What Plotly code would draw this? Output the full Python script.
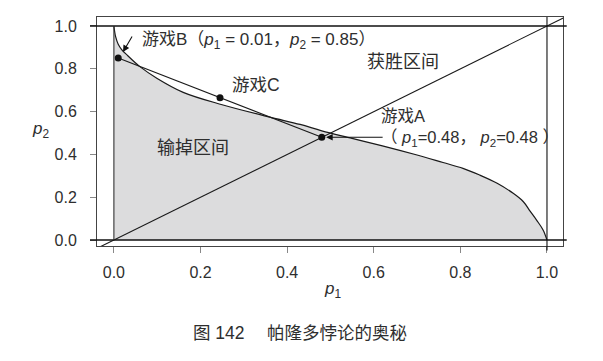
import plotly.graph_objects as go

# boundary curve of the losing region
curve_p1 = [0.0, 0.004, 0.01, 0.018, 0.03, 0.06, 0.10, 0.16, 0.25, 0.36, 0.43, 0.48,
            0.55, 0.62, 0.70, 0.76, 0.806, 0.845, 0.885, 0.922, 0.945, 0.961, 0.976, 0.991, 1.0]
curve_p2 = [1.0, 0.95, 0.915, 0.89, 0.865, 0.81, 0.755, 0.69, 0.632, 0.574, 0.54, 0.51,
            0.475, 0.44, 0.397, 0.362, 0.335, 0.303, 0.265, 0.218, 0.18, 0.135, 0.093, 0.047, 0.0]

# games
game_names = ["B", "C", "A"]
game_p1 = [0.01, 0.245, 0.48]
game_p2 = [0.85, 0.665, 0.48]

diag = [-0.1, 1.1]

xticks = [0.0, 0.2, 0.4, 0.6, 0.8, 1.0]
yticks = [0.0, 0.2, 0.4, 0.6, 0.8, 1.0]

FONT = "Liberation Sans, Arial, Noto Sans CJK SC, sans-serif"
TXT = "#2e2e2e"

fig = go.Figure()

# shaded losing region
fig.add_trace(go.Scatter(x=curve_p1, y=curve_p2, mode="lines", fill="tozeroy",
                         fillcolor="#dcdcdd", line=dict(color="#1a1a1a", width=1.2),
                         line_shape="spline", hoverinfo="skip"))
# diagonal p2 = p1
fig.add_trace(go.Scatter(x=diag, y=diag, mode="lines",
                         line=dict(color="#1a1a1a", width=1.1), hoverinfo="skip"))
# segment B - C - A
fig.add_trace(go.Scatter(x=game_p1, y=game_p2, mode="lines+markers",
                         line=dict(color="#1a1a1a", width=1.1),
                         marker=dict(color="#111", size=7), hoverinfo="skip"))

shapes = [
    dict(type="line", xref="paper", yref="y", x0=-0.015, x1=1.008, y0=0, y1=0,
         line=dict(color="#111", width=1.3)),
    dict(type="line", xref="paper", yref="y", x0=-0.015, x1=1.008, y0=1, y1=1,
         line=dict(color="#111", width=1.3)),
    dict(type="line", xref="x", yref="y", x0=0, x1=0, y0=0, y1=1,
         line=dict(color="#333", width=1.1)),
    dict(type="line", xref="x", yref="paper", x0=1, x1=1, y0=-0.02, y1=1,
         line=dict(color="#111", width=1.1)),
]

ann = []
def txt(x, y, s, size=17, xanchor="left", ref="x"):
    ann.append(dict(x=x, y=y, xref=ref, yref=("y" if ref == "x" else "paper"),
                    text=s, showarrow=False, align="left",
                    xanchor=xanchor, yanchor="middle",
                    font=dict(family=FONT, size=size, color=TXT)))

txt(0.06, 0.93, "游戏B（<i>p</i><sub>1</sub> = 0.01，<i>p</i><sub>2</sub> = 0.85）", size=17)
txt(0.268, 0.724, "游戏C", size=17.5)
txt(0.58, 0.832, "获胜区间", size=18)
txt(0.095, 0.43, "输掉区间", size=18)
txt(0.612, 0.525,
    "游戏A<br>（ <i>p</i><sub>1</sub>=0.48， <i>p</i><sub>2</sub>=0.48 ）", size=16.5)
txt(-0.122, 0.507, "<i>p</i><sub>2</sub>", xanchor="center", ref="paper", size=17)
txt(0.506, -0.192, "<i>p</i><sub>1</sub>", xanchor="center", ref="paper", size=17)
txt(0.436, -0.380, "图 142　 帕隆多悖论的奥秘", size=17.5, xanchor="center", ref="paper")

# arrows
ann.append(dict(x=0.021, y=0.879, ax=0.044, ay=0.958, xref="x", yref="y",
                axref="x", ayref="y", text="", showarrow=True, arrowhead=2,
                arrowsize=1.2, arrowwidth=1.1, arrowcolor="#111"))
ann.append(dict(x=0.49, y=0.48, ax=0.624, ay=0.48, xref="x", yref="y",
                axref="x", ayref="y", text="", showarrow=True, arrowhead=2,
                arrowsize=1.2, arrowwidth=1.1, arrowcolor="#111"))

fig.update_layout(
    width=595, height=353,
    margin=dict(l=89, r=40, t=9, b=115),
    plot_bgcolor="white", paper_bgcolor="white",
    showlegend=False,
    shapes=shapes, annotations=ann,
    font=dict(family=FONT, color=TXT, size=16),
)
fig.update_xaxes(range=[-0.039, 1.037], tickvals=xticks,
                 ticktext=[f"{v:.1f}" for v in xticks],
                 showgrid=False, zeroline=False, showline=True, mirror=True,
                 linecolor="#444", linewidth=1, ticks="outside", ticklen=6,
                 tickcolor="#888", ticklabelstandoff=6,
                 tickfont=dict(family=FONT, size=16, color=TXT))
fig.update_yaxes(range=[-0.028, 1.042], tickvals=yticks,
                 ticktext=[f"{v:.1f}" for v in yticks],
                 showgrid=False, zeroline=False, showline=True, mirror=True,
                 linecolor="#444", linewidth=1, ticks="outside", ticklen=6,
                 tickcolor="#888", ticklabelstandoff=10,
                 tickfont=dict(family=FONT, size=16, color=TXT))

fig.write_html("out.html")
